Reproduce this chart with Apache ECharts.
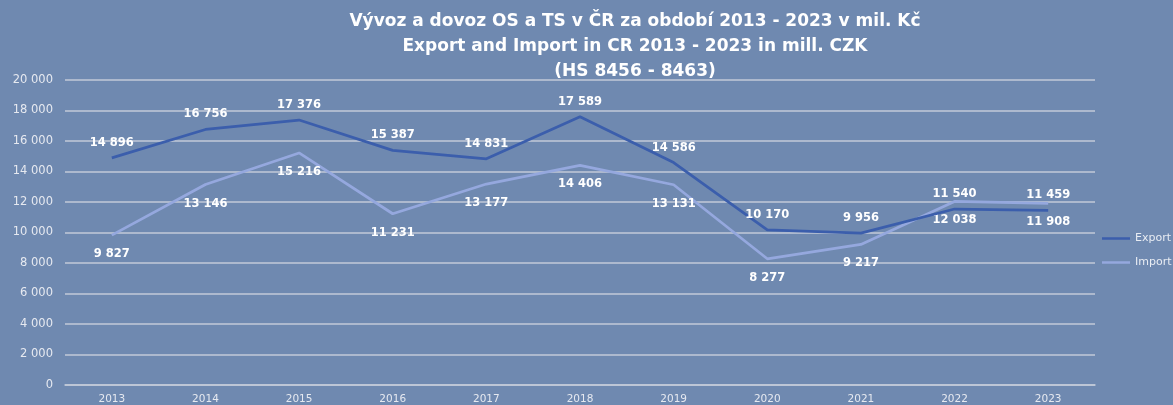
<!DOCTYPE html>
<html>
<head>
<meta charset="utf-8">
<script src="https://cdn.jsdelivr.net/npm/echarts@6/dist/echarts.min.js"></script>
<style>
  html, body { margin: 0; padding: 0; background: #6f89b0; }
  #chart { width: 1173px; height: 405px; }
</style>
</head>
<body>
<div id="chart"></div>
<script>
const years = ['2013', '2014', '2015', '2016', '2017', '2018', '2019', '2020', '2021', '2022', '2023'];
const exportData = [14896, 16756, 17376, 15387, 14831, 17589, 14586, 10170, 9956, 11540, 11459];
const importData = [9827, 13146, 15216, 11231, 13177, 14406, 13131, 8277, 9217, 12038, 11908];
const titleLines = [
    'Vývoz a dovoz OS a TS v ČR za období 2013 - 2023 v mil. Kč',
    'Export and Import in CR 2013 - 2023 in mill. CZK',
    '(HS 8456 - 8463)'
];

function fmt(v) {
    return String(v).replace(/\B(?=(\d{3})+(?!\d))/g, ' ');
}

document.addEventListener('DOMContentLoaded', function() {
    const chart = echarts.init(document.getElementById('chart'));

    const labelStyle = {
        show: true,
        color: '#ffffff',
        fontSize: 11.5,
        fontWeight: 'bold',
        fontFamily: '"DejaVu Sans", sans-serif',
        formatter: function(p) { return fmt(p.value); }
    };

    const option = {
        backgroundColor: '#6f89b0',
        textStyle: { fontFamily: '"DejaVu Sans", sans-serif' },
        title: {
            text: titleLines.join('\n'),
            left: 630,
            textAlign: 'center',
            top: 4,
            textStyle: {
                color: '#ffffff',
                fontSize: 17,
                fontWeight: 'bold',
                lineHeight: 25,
                fontFamily: '"DejaVu Sans", sans-serif'
            }
        },
        legend: {
            orient: 'vertical',
            left: 1097,
            top: 228,
            itemWidth: 28,
            itemHeight: 2.5,
            itemGap: 13,
            icon: 'rect',
            textStyle: { color: '#e8ecf3', fontSize: 11 },
            data: ['Export', 'Import']
        },
        grid: {
            left: 65,
            right: 78,
            top: 80,
            bottom: 20
        },
        xAxis: {
            type: 'category',
            data: years,
            boundaryGap: true,
            axisLine: { lineStyle: { color: '#c2cad9', width: 1.5 } },
            axisTick: { show: false },
            axisLabel: { color: '#e6e9f0', fontSize: 10.5, margin: 9 }
        },
        yAxis: {
            type: 'value',
            min: 0,
            max: 20000,
            interval: 2000,
            splitLine: { lineStyle: { color: '#c2cad9', width: 1.5 } },
            axisLine: { show: false },
            axisTick: { show: false },
            axisLabel: {
                color: '#e6e9f0',
                fontSize: 11.5,
                margin: 12,
                formatter: function(v) { return fmt(v); }
            }
        },
        series: [
            {
                name: 'Export',
                type: 'line',
                data: exportData,
                symbol: 'circle',
                symbolSize: 0,
                showSymbol: true,
                lineStyle: { color: '#3b5eac', width: 2.75 },
                itemStyle: { color: '#3b5eac' },
                label: Object.assign({}, labelStyle, { position: 'top', distance: 9 }),
                z: 3
            },
            {
                name: 'Import',
                type: 'line',
                data: importData,
                symbol: 'circle',
                symbolSize: 0,
                showSymbol: true,
                lineStyle: { color: '#95a8de', width: 2.75 },
                itemStyle: { color: '#95a8de' },
                label: Object.assign({}, labelStyle, { position: 'bottom', distance: 13 }),
                z: 2
            }
        ]
    };

    chart.setOption(option);

    window.addEventListener('resize', function() {
        chart.resize();
    });
});
</script>
</body>
</html>
